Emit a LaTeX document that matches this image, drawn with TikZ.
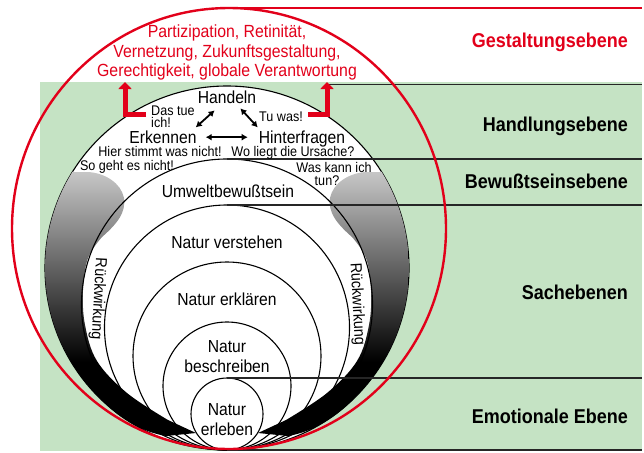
\documentclass[tikz,border=0pt]{standalone}
\usepackage{fontspec}
\setmainfont{Liberation Sans}[FakeStretch=0.9]
\usetikzlibrary{arrows.meta,calc}
\definecolor{rd}{RGB}{226,0,26}
\definecolor{gr}{RGB}{197,227,196}
\pgfdeclareverticalshading{bandsh}{100bp}{color(0bp)=(black); color(39bp)=(black); color(75bp)=(black!22); color(100bp)=(black!22)}
\begin{document}
\begin{tikzpicture}[x=1pt,y=-1pt,
  circ/.style={line width=1.1pt},
  hline/.style={line width=1.1pt, black!85},
  txt/.style={inner sep=0pt, anchor=base, font=\fontsize{17.4}{19}\selectfont},
  small/.style={inner sep=0pt, anchor=base, font=\fontsize{14}{14}\selectfont},
  redtxt/.style={inner sep=0pt, anchor=base, text=rd, font=\fontsize{17.6}{19}\selectfont},
  level/.style={inner sep=0pt, anchor=base east, font=\bfseries\fontsize{20}{22}\selectfont},
  rueck/.style={inner sep=0pt, font=\fontsize{16}{16}\selectfont},
  dbl/.style={{Latex[length=6pt,width=7pt]}-{Latex[length=6pt,width=7pt]}, line width=1.8pt},
  redL/.style={rd, line width=5pt, -{Triangle[length=7pt,width=13pt]}},
  bandpath/.style={insert path={
    (73,172) -- plot[domain=212:135, samples=40] ({227+182*cos(\x)},{268+182*sin(\x)})
    .. controls (118,418) and (142,432) .. (166,436)
    -- (196,433) -- (168,420)
    -- plot[smooth, tension=0.6] coordinates {(168,420) (127,393) (97,361) (85,325) (83,290) (88,258) (102,237)}
    .. controls (118,223) and (126,212) .. (124,198)
    .. controls (121,183) and (105,173) .. (88,172) -- cycle}}
]
\useasboundingbox (0,0) rectangle (644,452);
\fill[gr] (40,82) rectangle (642,451);
% outer circle
\fill[white,draw=black,circ] (227,268) circle[radius=182pt];
% Rueckwirkung bands
\shade[shading=bandsh, bandpath];
\begin{scope}[xshift=454pt, xscale=-1]
  \shade[shading=bandsh, bandpath];
\end{scope}
% nested circles
\draw[circ] (227,304.5) circle[radius=145.5pt];
\draw[circ] (227,327.5) circle[radius=122.5pt];
\draw[circ] (227,356) circle[radius=94pt];
\draw[circ] (227,386) circle[radius=64pt];
\draw[circ] (227,414) circle[radius=36pt];
% level lines
\coordinate (tA) at (327,84.5);  \coordinate (rA) at (642,84.5);
\coordinate (tB) at (227,159);   \coordinate (rB) at (642,159);
\coordinate (tC) at (227,205);   \coordinate (rC) at (642,205);
\coordinate (tF) at (227,378);   \coordinate (rF) at (642,378);
\coordinate (tZ) at (227,450);   \coordinate (rZ) at (642,450);
\draw[hline] (tA) -- (rA);
\draw[hline] (tB) -- (rB);
\draw[hline] (tC) -- (rC);
\draw[hline] (tF) -- (rF);
\draw[hline] (tZ) -- (rZ);
% red texts
\node[redtxt] (g1) at (227,37.5) {Partizipation, Retinität,};
\node[redtxt] (g2) at (227,57) {Vernetzung, Zukunftsgestaltung,};
\node[redtxt] (g3) at (227,76) {Gerechtigkeit, globale Verantwortung};
% Handlungsebene texts
\node[txt] (hand) at (227,103) {Handeln};
\node[txt] (erk) at (163,143.2) {Erkennen};
\node[txt] (hint) at (302,143.2) {Hinterfragen};
\node[small, anchor=base west] (das1) at (151,115) {Das tue};
\node[small, anchor=base west] (das2) at (151,127.5) {ich!};
\node[small] (tuwas) at (281,121) {Tu was!};
\node[small] (hier) at (160,156.8) {Hier stimmt was nicht!};
\node[small] (wo) at (293,156.8) {Wo liegt die Ursache?};
\node[small] (so) at (127,170) {So geht es nicht!};
\node[small] (was1) at (334,172) {Was kann ich};
\node[small] (was2) at (327,185) {tun?};
\draw[dbl] ($(hand.south west)+(17,7)$) -- ($(erk.north east)+(-1,-3)$);
\draw[dbl] ($(hand.south east)+(-16,5)$) -- ($(hint.north west)+(-1,-3)$);
\draw[dbl] ($(erk.base east)+(9,-6)$) -- ($(hint.base west)+(-11,-6)$);
% inner texts
\node[txt] (umw) at (228,197) {Umweltbewußtsein};
\node[txt] (nv) at (227,248) {Natur verstehen};
\node[txt] (ne) at (227,305) {Natur erklären};
\node[txt] (nb1) at (227,352) {Natur};
\node[txt] (nb2) at (227,372) {beschreiben};
\node[txt] (nl1) at (227,415) {Natur};
\node[txt] (nl2) at (227,435) {erleben};
\node[rueck, rotate=-93] (rw1) at (98,299) {Rückwirkung};
\node[rueck, rotate=-87] (rw2) at (357,304) {Rückwirkung};
% level labels
\node[level, text=rd] (lg) at (628,48) {Gestaltungsebene};
\node[level] (lh) at (628,131) {Handlungsebene};
\node[level] (lb) at (628,188) {Bewußtseinsebene};
\node[level] (ls) at (628,299) {Sachebenen};
\node[level] (le) at (628,423) {Emotionale Ebene};
% red L arrows
\coordinate (lfoot) at (146,114); \coordinate (ltip) at (125,82);
\coordinate (rfoot) at (308,114); \coordinate (rtip) at (327,82);
\draw[redL] (lfoot) -| (ltip);
\draw[redL] (rfoot) -| (rtip);
% red outer ellipse and top line
\draw[rd, line width=2.4pt] (229,228.5) ellipse[x radius=217pt, y radius=220.5pt];
\coordinate (redtop) at (229,8); \coordinate (redend) at (642,8);
\draw[rd, line width=2.4pt] (redtop) -- (redend);
\end{tikzpicture}
\end{document}
